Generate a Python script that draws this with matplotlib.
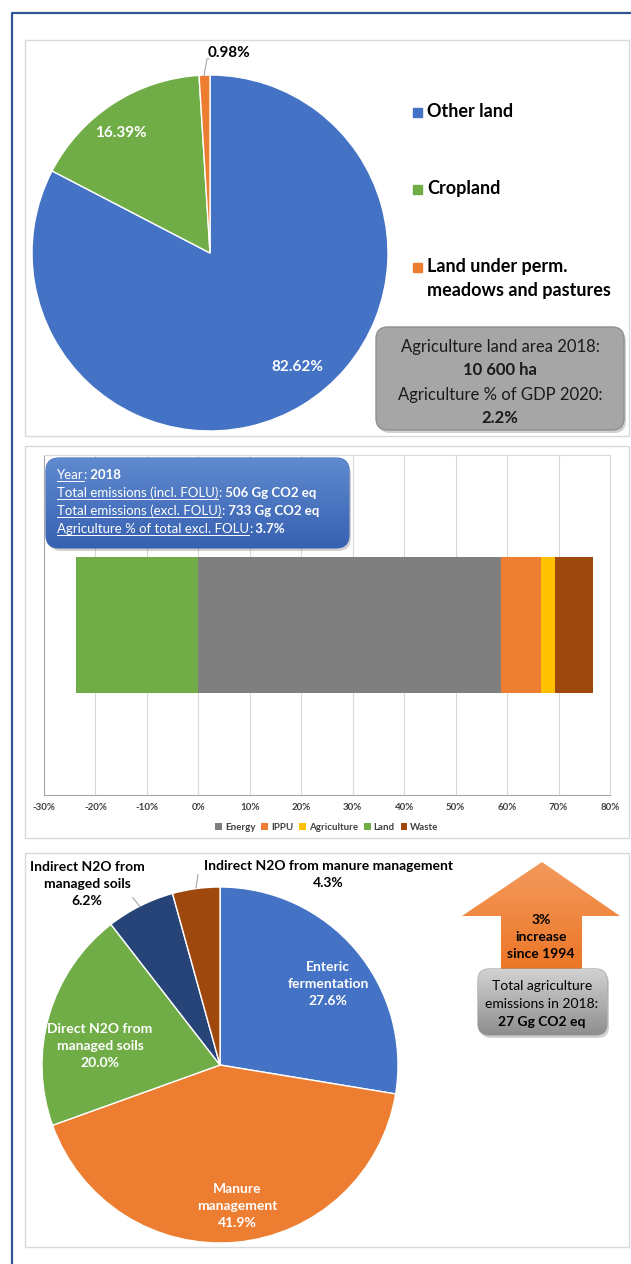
import numpy as np
import matplotlib
matplotlib.use('Agg')
import matplotlib.pyplot as plt
from matplotlib.patches import Rectangle, FancyBboxPatch, Polygon
from matplotlib.colors import LinearSegmentedColormap

plt.rcParams['font.family'] = ['Lato', 'DejaVu Sans']

W, H = 631, 1264

# land use, % of total area
land_labels = ['Other land', 'Cropland', 'Land under perm.\nmeadows and pastures']
land_shares = [82.62, 16.39, 0.98]
land_colors = ['#4472c4', '#70ad47', '#ed7d31']

# emissions by sector, % of absolute total (2018)
sectors = ['Energy', 'IPPU', 'Agriculture', 'Land', 'Waste']
sector_shares = [58.8, 7.7, 2.9, -23.7, 7.2]
sector_colors = ['#7f7f7f', '#ed7d31', '#ffc000', '#70ad47', '#9e480e']
x_ticks = np.arange(-30, 81, 10)

# agriculture emissions by source
agri_labels = ['Enteric\nfermentation', 'Manure\nmanagement', 'Direct N2O from\nmanaged soils',
               'Indirect N2O from\nmanaged soils', 'Indirect N2O from manure management']
agri_shares = [27.6, 41.9, 20.0, 6.2, 4.3]
agri_colors = ['#4472c4', '#ed7d31', '#70ad47', '#264478', '#9e480e']

box_lines = [('Year', '2018'),
             ('Total emissions (incl. FOLU)', '506 Gg CO2 eq'),
             ('Total emissions (excl. FOLU)', '733 Gg CO2 eq'),
             ('Agriculture % of total excl. FOLU', '3.7%')]

fig = plt.figure(figsize=(W / 100, H / 100), dpi=100)


def px_axes(x, y, w, h, **kw):
    return fig.add_axes([x / W, 1 - (y + h) / H, w / W, h / H], **kw)


# overlay in pixel coordinates for frames, boxes and free text
ov = px_axes(0, 0, W, H, zorder=5)
ov.set_xlim(0, W)
ov.set_ylim(H, 0)
ov.set_autoscale_on(False)
ov.axis('off')


def gradient_box(patch, top, bottom, z=6):
    ov.add_patch(patch)
    x0, y0, x1, y1 = patch.get_path().get_extents(patch.get_patch_transform()).extents
    cmap = LinearSegmentedColormap.from_list('g', [top, bottom])
    im = ov.imshow(np.linspace(0, 1, 64).reshape(-1, 1), cmap=cmap, aspect='auto',
                   extent=(x0, x1, y1, y0), zorder=z, interpolation='bilinear')
    im.set_clip_path(patch)


def shadow(x, y, w, h, r):
    ov.add_patch(FancyBboxPatch((x + 2, y + 3), w, h, boxstyle=f'round,pad=0,rounding_size={r}',
                                fc='#000000', ec='none', alpha=0.18, zorder=5))


# outer frame and panel outlines
ov.plot([12, 12, W], [H, 13, 13], color='#2f5597', lw=1.6, solid_capstyle='butt')
for y0, y1 in [(40, 436), (446, 838), (853, 1247)]:
    ov.add_patch(Rectangle((25, y0), 604, y1 - y0, fill=False, ec='#d9d9d9', lw=1))

# ---- land use pie ----
lim = 180 / 178
ax1 = px_axes(30, 73, 360, 360)
wedges1, _ = ax1.pie(land_shares, colors=land_colors, startangle=90, counterclock=False,
                     wedgeprops=dict(edgecolor='white', linewidth=1))
ax1.set_xlim(-lim, lim)
ax1.set_ylim(-lim, lim)
ax1.text(0.49, -0.64, f'{land_shares[0]:.2f}%', color='white', fontsize=11, fontweight='bold',
         ha='center', va='center')
ax1.text(-0.50, 0.674, f'{land_shares[1]:.2f}%', color='white', fontsize=11, fontweight='bold',
         ha='center', va='center')
ax1.text(0.107, 1.124, f'{land_shares[2]:.2f}%', color='black', fontsize=11, fontweight='bold',
         ha='center', va='center', clip_on=False)
ax1.plot([-0.034, -0.017, -0.006], [0.994, 1.09, 1.09], color='#a6a6a6', lw=0.8, clip_on=False)

for lab, col, yy in zip(land_labels, land_colors, [112, 189, 267]):
    ov.add_patch(Rectangle((413, yy - 4.5), 9, 9, color=col, zorder=6))
    ov.text(427, yy - 9, lab, fontsize=13, fontweight='bold', ha='left', va='top',
            linespacing=1.5, zorder=7)

shadow(376, 327, 248, 103, 12)
ov.add_patch(FancyBboxPatch((376, 327), 248, 103, boxstyle='round,pad=0,rounding_size=12',
                            fc='#a6a6a6', ec='#8f8f8f', lw=1, zorder=6))
for txt, yy, wt in [('Agriculture land area 2018:', 347, 'normal'), ('10 600 ha', 370, 'bold'),
                    ('Agriculture % of GDP 2020:', 395, 'normal'), ('2.2%', 418, 'bold')]:
    ov.text(500, yy, txt, fontsize=12, fontweight=wt, ha='center', va='center',
            color='#1a1a1a', zorder=7)

# ---- sector emissions bar ----
ax2 = px_axes(44, 455, 566, 340)
pos, neg = 0.0, 0.0
for name, val, col in zip(sectors, sector_shares, sector_colors):
    if val >= 0:
        ax2.barh(0, val, left=pos, height=0.8, color=col, label=name)
        pos += val
    else:
        ax2.barh(0, val, left=neg, height=0.8, color=col, label=name)
        neg += val
ax2.set_xlim(-30, 80)
ax2.set_ylim(-1, 1)
ax2.set_xticks(x_ticks)
ax2.set_xticklabels([f'{t}%' for t in x_ticks], fontsize=7, fontweight='bold', color='#404040')
ax2.set_yticks([])
ax2.tick_params(axis='x', length=0, pad=6)
ax2.xaxis.grid(True, color='#d9d9d9', lw=0.8)
ax2.set_axisbelow(True)
for side in ['top', 'right']:
    ax2.spines[side].set_color('#d9d9d9')
for side in ['left', 'bottom']:
    ax2.spines[side].set_color('#a6a6a6')
handles, labels = ax2.get_legend_handles_labels()
fig.legend(handles, labels, loc='center', bbox_to_anchor=(327 / W, 1 - 827 / H), ncol=5,
           frameon=False, prop={'size': 7, 'weight': 'bold'}, handlelength=0.7,
           handleheight=0.7, handletextpad=0.3, columnspacing=0.6, labelcolor='#404040')

# info box
shadow(46, 458, 303, 90, 13)
bb = FancyBboxPatch((46, 458), 303, 90, boxstyle='round,pad=0,rounding_size=13',
                    fc='none', ec='#3a62b2', lw=0.8, zorder=6)
gradient_box(bb, '#5f8acf', '#3761b1')
renderer = fig.canvas.get_renderer()
for (lab, val), yy in zip(box_lines, [479, 497, 515, 533]):
    x = 57
    for s, wt, ul in [(lab, 'normal', True), (':', 'normal', False), (' ' + val, 'bold', False)]:
        t = ov.text(x, yy, s, fontsize=9.5, fontweight=wt, color='white', ha='left',
                    va='baseline', zorder=8)
        ext = t.get_window_extent(renderer)
        if ul:
            ov.plot([x, ext.x1], [yy + 2.2, yy + 2.2], color='white', lw=0.7, zorder=8)
        x = ext.x1

# ---- agriculture emissions pie ----
ax3 = px_axes(40, 885, 360, 360)
wedges3, _ = ax3.pie(agri_shares, colors=agri_colors, startangle=90, counterclock=False,
                     wedgeprops=dict(edgecolor='white', linewidth=1))
ax3.set_xlim(-lim, lim)
ax3.set_ylim(-lim, lim)
label_pos = [(0.607, 0.455), (0.096, -0.792), (-0.674, 0.107), (-0.747, 1.017), (0.607, 1.073)]
label_col = ['white', 'white', 'white', 'black', 'black']
for lab, val, (lx, ly), col in zip(agri_labels, agri_shares, label_pos, label_col):
    ax3.text(lx, ly, f'{lab}\n{val:.1f}%', color=col, fontsize=10, fontweight='bold',
             ha='center', va='center', linespacing=1.5, clip_on=False)
ax3.plot([-0.449, -0.49], [0.89, 0.94], color='#a6a6a6', lw=0.8, clip_on=False)
ax3.plot([-0.135, -0.124], [0.995, 1.07], color='#a6a6a6', lw=0.8, clip_on=False)

# growth arrow
arrow = Polygon([(542, 862), (620, 916), (582, 916), (582, 975), (501, 975), (501, 916),
                 (462, 916)], closed=True, fc='none', ec='none', zorder=6)
gradient_box(arrow, '#f39a5c', '#ec7424')
ov.text(541, 937, '3%\nincrease\nsince 1994', fontsize=10, fontweight='bold', ha='center',
        va='center', linespacing=1.5, zorder=8)

shadow(478, 969, 129, 66, 11)
gb = FancyBboxPatch((478, 969), 129, 66, boxstyle='round,pad=0,rounding_size=11',
                    fc='none', ec='#9a9a9a', lw=0.8, zorder=7)
gradient_box(gb, '#d2d2d2', '#8e8e8e', z=7)
for txt, yy, wt in [('Total agriculture', 986, 'normal'), ('emissions in 2018:', 1004, 'normal'),
                    ('27 Gg CO2 eq', 1022, 'bold')]:
    ov.text(542, yy, txt, fontsize=10, fontweight=wt, ha='center', va='center', zorder=8)

fig.savefig('out.png', dpi=100)
